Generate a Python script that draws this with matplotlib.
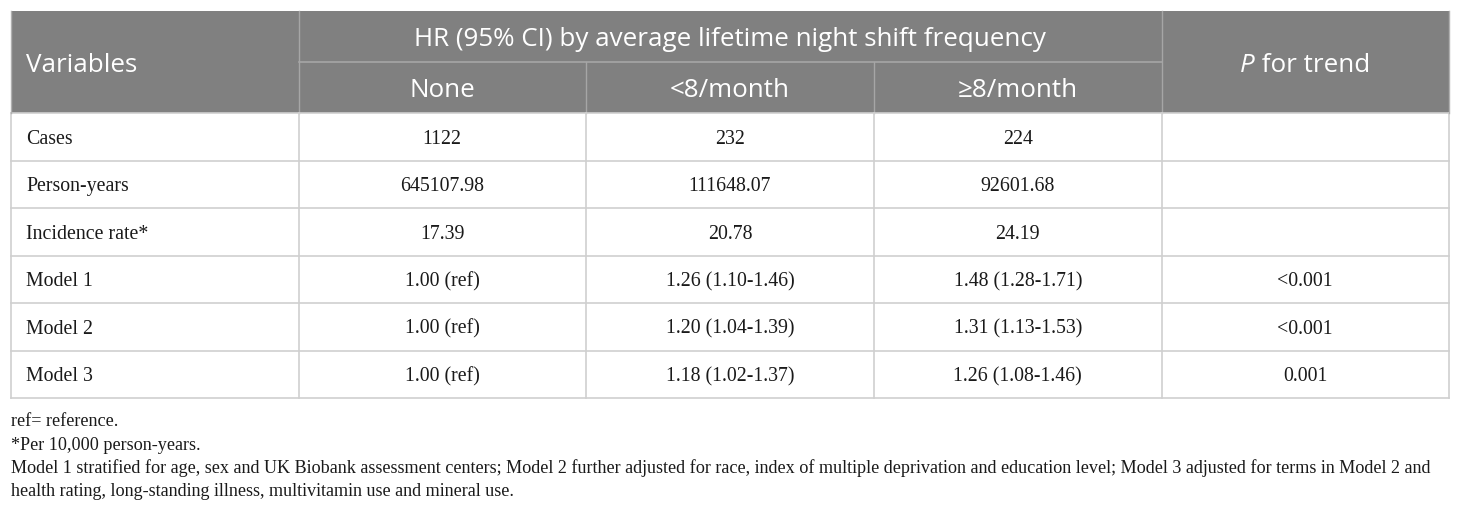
import matplotlib
matplotlib.use("Agg")
import matplotlib.pyplot as plt
from matplotlib.patches import Rectangle

# ---- data ----
header_span = "HR (95% CI) by average lifetime night shift frequency"
groups = ["None", "<8/month", "≥8/month"]
row_labels = ["Cases", "Person-years", "Incidence rate*", "Model 1", "Model 2", "Model 3"]
none_vals = ["1122", "645107.98", "17.39", "1.00 (ref)", "1.00 (ref)", "1.00 (ref)"]
lt8_vals = ["232", "111648.07", "20.78", "1.26 (1.10-1.46)", "1.20 (1.04-1.39)", "1.18 (1.02-1.37)"]
ge8_vals = ["224", "92601.68", "24.19", "1.48 (1.28-1.71)", "1.31 (1.13-1.53)", "1.26 (1.08-1.46)"]
p_trend = ["", "", "", "<0.001", "<0.001", "0.001"]
footnotes = [
    "ref= reference.",
    "*Per 10,000 person-years.",
    "Model 1 stratified for age, sex and UK Biobank assessment centers; Model 2 further adjusted for race, index of multiple deprivation and education level; Model 3 adjusted for terms in Model 2 and",
    "health rating, long-standing illness, multivitamin use and mineral use.",
]

# ---- layout ----
W, H = 1460, 512
fig = plt.figure(figsize=(W / 100, H / 100), dpi=100)
ax = fig.add_axes([0, 0, 1, 1])
ax.set_xlim(0, W)
ax.set_ylim(H, 0)
ax.axis("off")

x_edges = [11, 298.5, 586, 874, 1161.5, 1449]
top, mid, hbot = 11, 62, 113
row_h = 47.5
n = len(row_labels)
bottom = hbot + n * row_h

hdr_bg = "#808080"
grid = "#cfcfcf"
sans = "Open Sans"
serif = "Liberation Serif"
hfs = 18.7
bfs = 14.3
ffs = 13.1

ax.add_patch(Rectangle((x_edges[0], top), x_edges[-1] - x_edges[0], hbot - top,
                       facecolor=hdr_bg, edgecolor="none", zorder=1))
# header lines
ax.plot([x_edges[1], x_edges[4]], [mid, mid], color="#a6a6a6", lw=1.2, zorder=2)
for xe in x_edges[2:4]:
    ax.plot([xe, xe], [mid, hbot], color="#a6a6a6", lw=1.0, zorder=2)
for xe in [x_edges[1], x_edges[4]]:
    ax.plot([xe, xe], [top, hbot], color="#a6a6a6", lw=1.0, zorder=2)

# body grid
for i in range(n + 1):
    y = hbot + i * row_h
    ax.plot([x_edges[0], x_edges[-1]], [y, y], color=grid, lw=1.2, zorder=2)
for xe in x_edges:
    ax.plot([xe, xe], [hbot, bottom], color=grid, lw=1.2, zorder=2)
ax.plot([x_edges[0], x_edges[0]], [top, hbot], color="#b0b0b0", lw=1.0, zorder=2)
ax.plot([x_edges[-1], x_edges[-1]], [top, hbot], color="#b0b0b0", lw=1.0, zorder=2)

# header texts
ax.text(26, (top + hbot) / 2, "Variables", color="white", fontsize=hfs, family=sans,
        ha="left", va="center_baseline")
ax.text((x_edges[1] + x_edges[4]) / 2, (top + mid) / 2, header_span, color="white",
        fontsize=hfs, family=sans, ha="center", va="center_baseline")
for j, g in enumerate(groups):
    ax.text((x_edges[j + 1] + x_edges[j + 2]) / 2, (mid + hbot) / 2, g, color="white",
            fontsize=hfs, family=[sans, "DejaVu Sans"], ha="center", va="center_baseline")

# P for trend (italic P)
fig.canvas.draw()
r = fig.canvas.get_renderer()
pc = (x_edges[4] + x_edges[5]) / 2
yc = (top + hbot) / 2
t1 = ax.text(0, yc, "P", color="white", fontsize=hfs, family=sans, style="italic",
             ha="left", va="center_baseline")
t2 = ax.text(0, yc, " for trend", color="white", fontsize=hfs, family=sans,
             ha="left", va="center_baseline")
w1 = t1.get_window_extent(r).width
w2 = t2.get_window_extent(r).width
x0 = pc - (w1 + w2) / 2
t1.set_x(x0)
t2.set_x(x0 + w1)

# body texts
cols = [none_vals, lt8_vals, ge8_vals, p_trend]
for i, lab in enumerate(row_labels):
    yc = hbot + (i + 0.5) * row_h
    ax.text(26, yc, lab, fontsize=bfs, family=serif, color="#1a1a1a",
            ha="left", va="center_baseline")
    for j, col in enumerate(cols):
        ax.text((x_edges[j + 1] + x_edges[j + 2]) / 2, yc, col[i], fontsize=bfs,
                family=serif, color="#1a1a1a", ha="center", va="center_baseline")

# footnotes
for k, fn in enumerate(footnotes):
    ax.text(11, 420 + k * 23, fn, fontsize=ffs, family=serif, color="#1a1a1a",
            ha="left", va="center_baseline")

fig.savefig("out.png", dpi=100, facecolor="white")
